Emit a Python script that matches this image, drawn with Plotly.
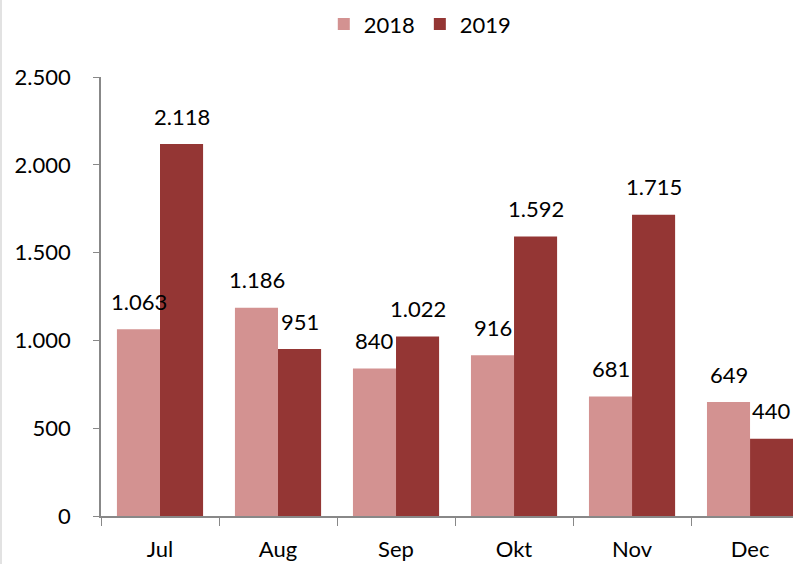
import plotly.graph_objects as go

months = ["Jul", "Aug", "Sep", "Okt", "Nov", "Dec"]
v2018 = [1063, 1186, 840, 916, 681, 649]
v2019 = [2118, 951, 1022, 1592, 1715, 440]

c2018 = "#D39291"
c2019 = "#943634"
font = "Lato"
fsize = 22


def fmt(v):
    return f"{v:,}".replace(",", ".")


fig = go.Figure()
fig.add_trace(go.Bar(x=months, y=v2018, name="2018", marker=dict(color=c2018, line=dict(width=0))))
fig.add_trace(go.Bar(x=months, y=v2019, name="2019", marker=dict(color=c2019, line=dict(width=0))))

# labels above bars, Excel-like "outside end"
annotations = []
for m, a, b in zip(months, v2018, v2019):
    for val, shift in ((a, -21.5), (b, 21.5)):
        annotations.append(dict(
            x=m, y=val, xref="x", yref="y", text=fmt(val),
            showarrow=False, xshift=shift, yshift=28,
            font=dict(family=font, size=fsize, color="#000000"),
        ))

fig.update_layout(
    width=793, height=564,
    margin=dict(l=101, r=0, t=77, b=48, autoexpand=False),
    paper_bgcolor="white", plot_bgcolor="white",
    barmode="group", bargap=0.27, bargroupgap=0,
    separators=",.",
    font=dict(family=font, size=fsize, color="#000000"),
    showlegend=True,
    legend=dict(orientation="h", xref="container", yref="container",
                x=0.53, y=0.957, xanchor="center", yanchor="middle",
                font=dict(family=font, size=fsize), itemwidth=30,
                traceorder="normal"),
    annotations=annotations,
    xaxis=dict(range=[-0.5, 5.364], tickson="boundaries", ticks="outside", ticklen=8,
               tickcolor="#888888", showline=True, linecolor="#888888", linewidth=1.5,
               showgrid=False, ticklabelstandoff=13, tickfont=dict(size=fsize)),
    yaxis=dict(range=[0, 2500], dtick=500, tickformat=",", ticks="outside", ticklen=6,
               tickcolor="#888888", showline=True, linecolor="#888888", linewidth=1.5,
               showgrid=False, zeroline=False, ticklabelstandoff=18, tickfont=dict(size=fsize)),
    shapes=[dict(type="line", xref="paper", yref="paper", x0=-100/692, x1=-100/692,
                 y0=-48/439, y1=1 + 77/439, line=dict(color="#D9D9D9", width=1.5))],
)

# drop the browser's default body margin so the chart fills the window
fig.write_html("out.html", config={"displayModeBar": False},
               post_script="document.body.style.margin='0';")
